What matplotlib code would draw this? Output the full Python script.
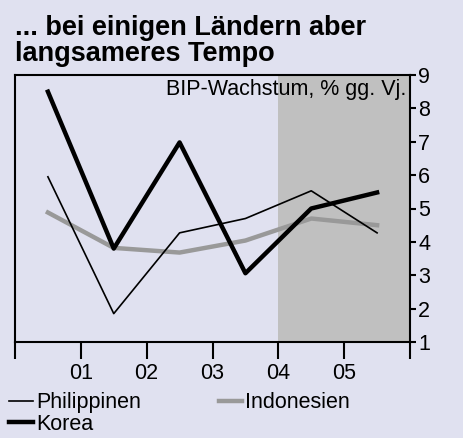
import matplotlib
matplotlib.use("Agg")
import matplotlib.pyplot as plt
from matplotlib.lines import Line2D

plt.rcParams['font.family'] = ['Liberation Sans', 'DejaVu Sans']

years_x = [0.5, 1.5, 2.5, 3.5, 4.5, 5.5]
tick_pos = [0, 1, 2, 3, 4, 5, 6]
tick_labels = ['', '01', '02', '03', '04', '05', '']
philippinen = [5.95, 1.85, 4.27, 4.7, 5.53, 4.27]
indonesien = [4.88, 3.82, 3.68, 4.04, 4.7, 4.5]
korea = [8.5, 3.8, 6.98, 3.06, 5.0, 5.48]
forecast_start, forecast_end = 4, 6

bg = '#e0e1f0'
fs = 15.5
fig = plt.figure(figsize=(4.64, 4.38), dpi=100, facecolor=bg)
ax = fig.add_axes([15/464, 1-342/438, 395/464, 267/438])
ax.set_facecolor(bg)
ax.axvspan(forecast_start, forecast_end, color='#c0c0c0', zorder=0, lw=0)

ax.plot(years_x, philippinen, color='black', lw=1.2, zorder=3)
ax.plot(years_x, indonesien, color='#999999', lw=3.2, zorder=2)
ax.plot(years_x, korea, color='black', lw=3.2, zorder=4)

ax.set_xlim(0, 6)
ax.set_ylim(1, 9)
ax.set_xticks(tick_pos)
ax.set_xticklabels(tick_labels)
ax.set_yticks(range(1, 10))
ax.yaxis.tick_right()
ax.tick_params(axis='y', direction='out', length=4, width=1.5, labelsize=fs, pad=2)
ax.tick_params(axis='x', direction='out', length=12, width=1.5, labelsize=fs, pad=3)
for s in ax.spines.values():
    s.set_linewidth(1.5)

ax.text(0.99, 0.985, 'BIP-Wachstum, % gg. Vj.', transform=ax.transAxes,
        ha='right', va='top', fontsize=fs)

fig.text(15/464, 1-15/438, '... bei einigen Ländern aber\nlangsameres Tempo',
         ha='left', va='top', fontsize=19.5, fontweight='bold', linespacing=1.0)

handles = [Line2D([], [], color='black', lw=1.2),
           Line2D([], [], color='black', lw=3.2),
           Line2D([], [], color='#999999', lw=3.2)]
labels = ['Philippinen', 'Korea', 'Indonesien']
fig.legend(handles, labels, loc='upper left', bbox_to_anchor=(6/464, 1-389/438),
           ncol=2, frameon=False, fontsize=fs, handlelength=1.1,
           handletextpad=0.15, columnspacing=3.6, labelspacing=0.02,
           borderaxespad=0, borderpad=0.15)

fig.savefig('out.png', dpi=100, facecolor=bg)
